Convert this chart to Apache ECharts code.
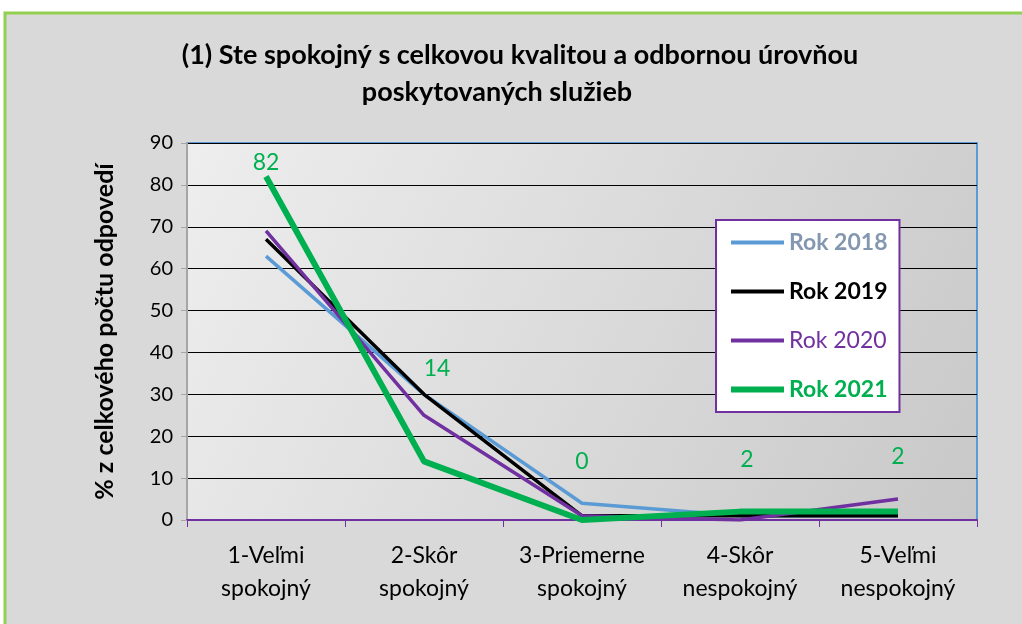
<!DOCTYPE html>
<html>
    <head>
        <meta charset="utf-8">
        <title>Spokojnost</title>
        <script src="https://cdn.jsdelivr.net/npm/echarts@6/dist/echarts.min.js"></script>
        <style>
            html, body { margin: 0; padding: 0; background: #fff; }
            #chart1 { width: 1022px; height: 624px; }
        </style>
    </head>
    <body>
        <div id="chart1"></div>
        <script type="text/javascript">
            // data
            var categories = ['1-Veľmi\nspokojný', '2-Skôr\nspokojný', '3-Priemerne\nspokojný', '4-Skôr\nnespokojný', '5-Veľmi\nnespokojný'];
            var rok2018 = [63, 30, 4, 1, 1];
            var rok2019 = [67, 30, 1, 1, 1];
            var rok2020 = [69, 25, 1, 0, 5];
            var rok2021 = [82, 14, 0, 2, 2];
            var yTicks = [0, 10, 20, 30, 40, 50, 60, 70, 80, 90];

            var font = 'Lato';
            // where Excel put the 2021 labels
            var labelOffsets = [[0, 3], [13, -76], [0, -41], [7, -35], [0, -38]];

            var myChart1 = echarts.init(document.getElementById('chart1'));
            myChart1.setOption({
                backgroundColor: '#ffffff',
                textStyle: { fontFamily: font },
                graphic: [{
                    type: 'rect',
                    z: -10,
                    shape: { x: 5, y: 13, width: 1040, height: 640 },
                    style: { fill: '#d9d9d9', stroke: '#92d050', lineWidth: 3 }
                }],
                title: [{
                    text: '(1) Ste spokojný s celkovou kvalitou a odbornou úrovňou',
                    left: 515, top: 37, textAlign: 'center',
                    textStyle: { fontFamily: font, fontSize: 27, fontWeight: 'bold', color: '#000' }
                }, {
                    text: 'poskytovaných služieb',
                    left: 492, top: 74, textAlign: 'center',
                    textStyle: { fontFamily: font, fontSize: 27, fontWeight: 'bold', color: '#000' }
                }],
                legend: {
                    orient: 'vertical',
                    left: 716, top: 220,
                    padding: [11, 12, 11, 12],
                    itemGap: 26,
                    itemWidth: 53, itemHeight: 20,
                    backgroundColor: '#ffffff',
                    borderColor: '#7030a0', borderWidth: 2,
                    itemStyle: { opacity: 0 },
                    textStyle: { fontFamily: font, fontSize: 23, lineHeight: 23 },
                    data: [
                        { name: 'Rok 2018', lineStyle: { width: 4 }, textStyle: { color: '#8497b0', fontWeight: 'bold' } },
                        { name: 'Rok 2019', lineStyle: { width: 4 }, textStyle: { color: '#000000', fontWeight: 'bold' } },
                        { name: 'Rok 2020', lineStyle: { width: 4 }, textStyle: { color: '#7030a0' } },
                        { name: 'Rok 2021', lineStyle: { width: 6 }, textStyle: { color: '#00b050', fontWeight: 'bold' } }
                    ]
                },
                grid: {
                    left: 187, right: 45, top: 143, bottom: 104,
                    show: true,
                    borderColor: '#5b9bd5', borderWidth: 2,
                    backgroundColor: new echarts.graphic.LinearGradient(0, 0, 1, 1, [
                        { offset: 0, color: '#eeeeee' },
                        { offset: 1, color: '#c8c8c8' }
                    ])
                },
                xAxis: {
                    type: 'category',
                    data: categories,
                    boundaryGap: true,
                    axisLine: { lineStyle: { color: '#7030a0', width: 2 } },
                    axisTick: { show: true, length: 7, lineStyle: { color: '#7030a0' } },
                    axisLabel: { interval: 0, fontFamily: font, fontSize: 23, color: '#000', lineHeight: 33, margin: 19 }
                },
                yAxis: {
                    type: 'value',
                    min: yTicks[0], max: yTicks[yTicks.length - 1], interval: 10,
                    name: '% z celkového počtu odpovedí',
                    nameLocation: 'middle',
                    nameGap: 70,
                    nameTextStyle: { fontFamily: font, fontSize: 25, fontWeight: 'bold', color: '#000' },
                    axisLine: { show: true, lineStyle: { color: '#a6a6a6', width: 2 } },
                    axisTick: { show: true, length: 6, lineStyle: { color: '#a6a6a6' } },
                    axisLabel: { fontFamily: font, fontSize: 20, color: '#000', margin: 14 },
                    splitLine: { lineStyle: { color: '#000', width: 1.2 } }
                },
                series: [{
                    name: 'Rok 2018', type: 'line', data: rok2018, symbol: 'none',
                    color: '#5b9bd5', lineStyle: { width: 3.5, color: '#5b9bd5' }
                }, {
                    name: 'Rok 2019', type: 'line', data: rok2019, symbol: 'none',
                    color: '#000000', lineStyle: { width: 3.5, color: '#000000' }
                }, {
                    name: 'Rok 2020', type: 'line', data: rok2020, symbol: 'none',
                    color: '#7030a0', lineStyle: { width: 3.5, color: '#7030a0' }
                }, {
                    name: 'Rok 2021', type: 'line', symbol: 'circle', symbolSize: 1, showSymbol: true,
                    color: '#00b050', lineStyle: { width: 6, color: '#00b050' },
                    itemStyle: { color: 'rgba(0,0,0,0)', borderWidth: 0 },
                    data: rok2021.map(function (v, i) {
                        return { value: v, label: { offset: labelOffsets[i] } };
                    }),
                    label: {
                        show: true, position: 'top',
                        fontFamily: font, fontSize: 23, color: '#00b050'
                    }
                }]
            });
        </script>
    </body>
</html>
